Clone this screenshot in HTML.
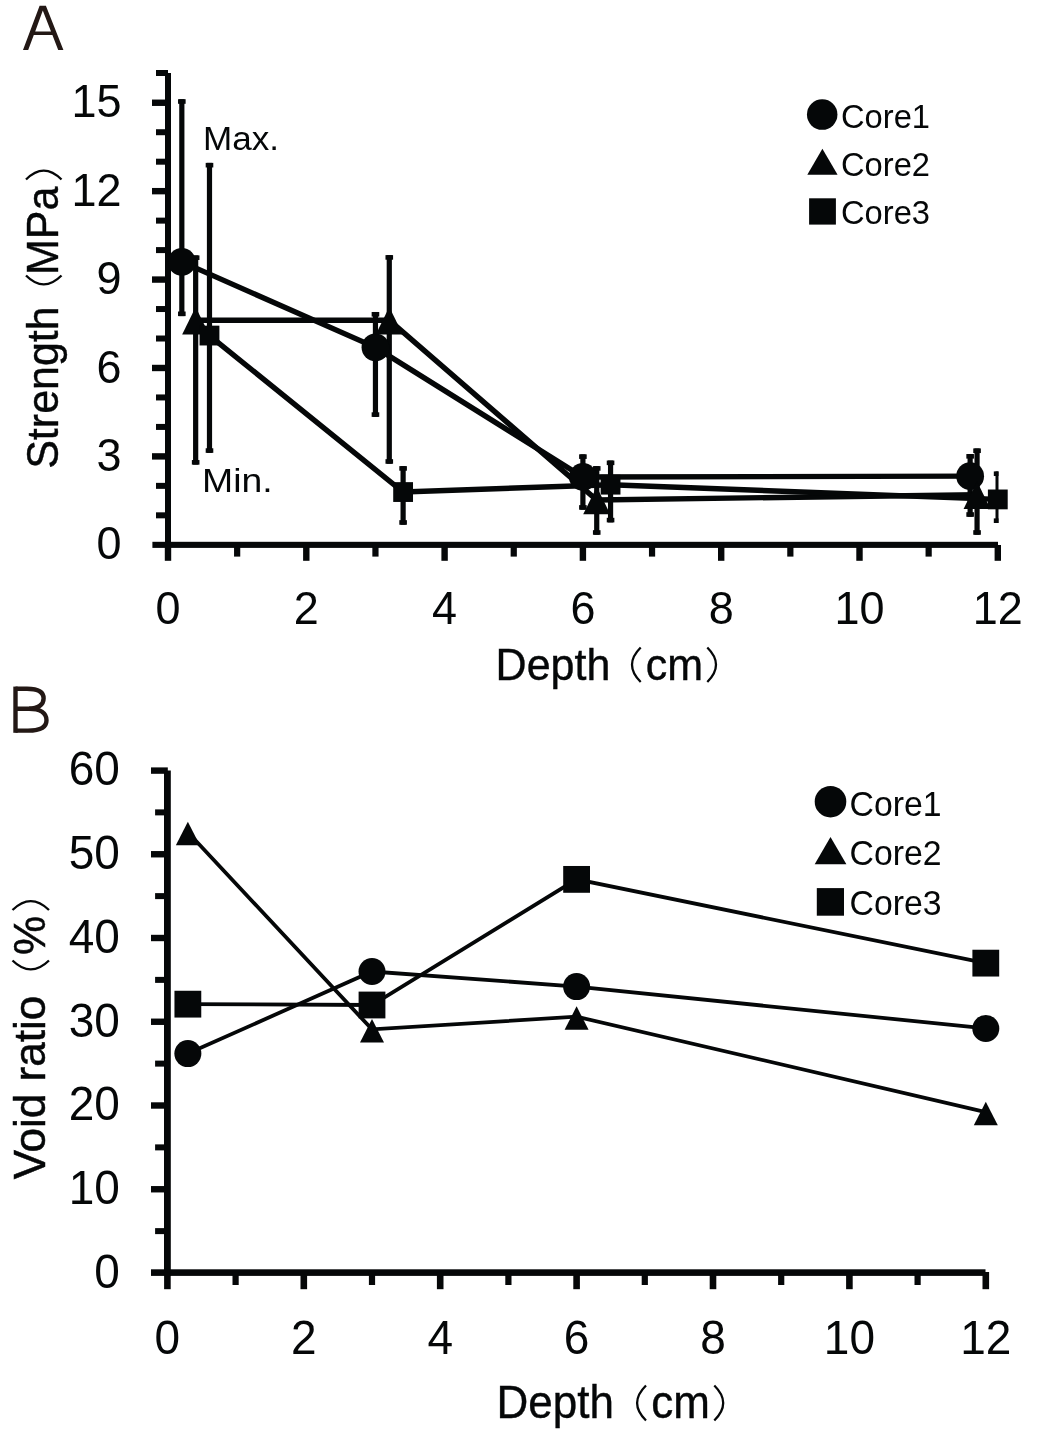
<!DOCTYPE html>
<html><head><meta charset="utf-8"><title>Figure</title>
<style>html,body{margin:0;padding:0;background:#fff}svg{display:block;will-change:transform}text{font-family:"Liberation Sans",sans-serif;fill:#050708}</style>
</head><body>
<svg width="1045" height="1433" viewBox="0 0 1045 1433" fill="#050708">
<rect x="0" y="0" width="1045" height="1433" fill="#ffffff"/>
<!-- panel letters -->
<path fill="#231815" fill-rule="evenodd" d="M23,50 L39.6,5.7 L45.9,5.7 L63.4,50 L58.2,50 L52.4,35.1 L33.8,35.1 L28.2,50 Z M35.2,31.5 L51,31.5 L42.8,10.6 Z"/>
<g fill="none" stroke="#231815" stroke-width="4.4" stroke-linejoin="miter">
<path d="M15.5,686.6 L15.5,732.8"/>
<path d="M15.5,688.8 L27,688.8 C38,688.8 43.6,692.2 43.6,698.4 C43.6,704.6 38,708.7 29,708.7 L15.5,708.7"/>
<path d="M29,708.7 C40.5,708.7 46.5,713 46.5,720.2 C46.5,727.4 40,730.6 28,730.6 L15.5,730.6"/>
</g>
<!-- chart A axes -->
<rect x="165" y="73" width="6" height="475"/>
<rect x="152.4" y="541.8" width="845.6" height="6.1"/>
<rect x="156" y="512.33" width="10" height="6"/>
<rect x="156" y="482.86" width="10" height="6"/>
<rect x="152" y="453.19" width="14" height="6.4"/>
<rect x="156" y="423.92" width="10" height="6"/>
<rect x="156" y="394.45" width="10" height="6"/>
<rect x="152" y="364.78" width="14" height="6.4"/>
<rect x="156" y="335.51" width="10" height="6"/>
<rect x="156" y="306.04" width="10" height="6"/>
<rect x="152" y="276.37" width="14" height="6.4"/>
<rect x="156" y="247.1" width="10" height="6"/>
<rect x="156" y="217.63" width="10" height="6"/>
<rect x="152" y="187.96" width="14" height="6.4"/>
<rect x="156" y="158.69" width="10" height="6"/>
<rect x="156" y="129.22" width="10" height="6"/>
<rect x="152" y="99.55" width="14" height="6.4"/>
<rect x="156" y="70" width="12" height="6"/>
<rect x="164.8" y="545" width="6.4" height="15.8"/>
<rect x="234.05" y="545" width="6.2" height="11.6"/>
<rect x="303.1" y="545" width="6.4" height="15.8"/>
<rect x="372.35" y="545" width="6.2" height="11.6"/>
<rect x="441.4" y="545" width="6.4" height="15.8"/>
<rect x="510.65" y="545" width="6.2" height="11.6"/>
<rect x="579.7" y="545" width="6.4" height="15.8"/>
<rect x="648.95" y="545" width="6.2" height="11.6"/>
<rect x="718" y="545" width="6.4" height="15.8"/>
<rect x="787.25" y="545" width="6.2" height="11.6"/>
<rect x="856.3" y="545" width="6.4" height="15.8"/>
<rect x="925.55" y="545" width="6.2" height="11.6"/>
<rect x="994.6" y="545" width="6.4" height="15.8"/>
<!-- chart A error bars -->
<rect x="179.23" y="99.21" width="5.2" height="216.9"/>
<rect x="178.03" y="99.21" width="7.6" height="4.6"/>
<rect x="178.03" y="311.51" width="7.6" height="4.6"/>
<rect x="372.85" y="311.99" width="5.2" height="104.91"/>
<rect x="371.65" y="311.99" width="7.6" height="4.6"/>
<rect x="371.65" y="412.3" width="7.6" height="4.6"/>
<rect x="580.3" y="454.33" width="5.2" height="55.4"/>
<rect x="579.1" y="454.33" width="7.6" height="4.6"/>
<rect x="579.1" y="505.13" width="7.6" height="4.6"/>
<rect x="967.54" y="454.03" width="5.2" height="62.77"/>
<rect x="966.34" y="454.03" width="7.6" height="4.6"/>
<rect x="966.34" y="512.2" width="7.6" height="4.6"/>
<rect x="193.06" y="255.4" width="5.2" height="209.24"/>
<rect x="191.86" y="255.4" width="7.6" height="4.6"/>
<rect x="191.86" y="460.04" width="7.6" height="4.6"/>
<rect x="386.68" y="255.11" width="5.2" height="208.65"/>
<rect x="385.48" y="255.11" width="7.6" height="4.6"/>
<rect x="385.48" y="459.16" width="7.6" height="4.6"/>
<rect x="594.13" y="466.12" width="5.2" height="68.67"/>
<rect x="592.93" y="466.12" width="7.6" height="4.6"/>
<rect x="592.93" y="530.18" width="7.6" height="4.6"/>
<rect x="974.46" y="448.43" width="5.2" height="86.35"/>
<rect x="973.26" y="448.43" width="7.6" height="4.6"/>
<rect x="973.26" y="530.18" width="7.6" height="4.6"/>
<rect x="206.89" y="162.87" width="5.2" height="289.98"/>
<rect x="205.69" y="162.87" width="7.6" height="4.6"/>
<rect x="205.69" y="448.25" width="7.6" height="4.6"/>
<rect x="400.51" y="466.12" width="5.2" height="58.65"/>
<rect x="399.31" y="466.12" width="7.6" height="4.6"/>
<rect x="399.31" y="520.16" width="7.6" height="4.6"/>
<rect x="607.96" y="460.52" width="5.2" height="61.89"/>
<rect x="606.76" y="460.52" width="7.6" height="4.6"/>
<rect x="606.76" y="517.8" width="7.6" height="4.6"/>
<rect x="995.5" y="471.42" width="3" height="51.57"/>
<rect x="993.8" y="471.42" width="4.7" height="4.6"/>
<rect x="993.8" y="518.39" width="4.7" height="4.6"/>
<!-- chart A lines -->
<polyline points="181.83,261.89 375.45,347.35 582.9,477.02 970.14,476.13" fill="none" stroke="#050708" stroke-width="5.4" stroke-linejoin="miter"/>
<polyline points="195.66,320.24 389.28,320.24 596.73,500.01 977.06,494.7" fill="none" stroke="#050708" stroke-width="5.4" stroke-linejoin="miter"/>
<polyline points="209.49,335.56 403.11,492.05 610.56,484.68 997.8,499.42" fill="none" stroke="#050708" stroke-width="5.4" stroke-linejoin="miter"/>
<!-- chart A markers -->
<circle cx="181.83" cy="261.89" r="13.9"/>
<circle cx="375.45" cy="347.35" r="13.9"/>
<circle cx="582.9" cy="477.02" r="13.9"/>
<circle cx="970.14" cy="476.13" r="13.9"/>
<polygon points="195.66,306.94 209.16,334.54 182.16,334.54"/>
<polygon points="389.28,306.94 402.78,334.54 375.78,334.54"/>
<polygon points="596.73,486.71 610.23,514.31 583.23,514.31"/>
<polygon points="977.06,481.4 990.56,509 963.56,509"/>
<rect x="199.59" y="325.66" width="19.8" height="19.8"/>
<rect x="393.21" y="482.15" width="19.8" height="19.8"/>
<rect x="600.66" y="474.78" width="19.8" height="19.8"/>
<rect x="987.9" y="489.52" width="19.8" height="19.8"/>
<!-- chart A tick labels -->
<g font-size="47" text-anchor="end">
<text transform="translate(121.5 559.4) scale(0.957 1)">0</text>
<text transform="translate(121.5 470.99) scale(0.957 1)">3</text>
<text transform="translate(121.5 382.58) scale(0.957 1)">6</text>
<text transform="translate(121.5 294.17) scale(0.957 1)">9</text>
<text transform="translate(121.5 205.76) scale(0.957 1)">12</text>
<text transform="translate(121.5 117.35) scale(0.957 1)">15</text>
</g>
<g font-size="47" text-anchor="middle">
<text transform="translate(168 623.8) scale(0.957 1)">0</text>
<text transform="translate(306.3 623.8) scale(0.957 1)">2</text>
<text transform="translate(444.6 623.8) scale(0.957 1)">4</text>
<text transform="translate(582.9 623.8) scale(0.957 1)">6</text>
<text transform="translate(721.2 623.8) scale(0.957 1)">8</text>
<text transform="translate(859.5 623.8) scale(0.957 1)">10</text>
<text transform="translate(997.8 623.8) scale(0.957 1)">12</text>
</g>
<text x="203" y="150" font-size="33" textLength="76" lengthAdjust="spacingAndGlyphs">Max.</text>
<text x="202" y="492.1" font-size="33" textLength="70.6" lengthAdjust="spacingAndGlyphs">Min.</text>
<!-- legend A -->
<circle cx="822.2" cy="114.6" r="15.25"/>
<polygon points="822.4,148.7 837.6,174.8 807.3,174.8"/>
<rect x="809.1" y="198.3" width="26.8" height="26.3"/>
<g font-size="34">
<text x="841" y="127.9" textLength="89" lengthAdjust="spacingAndGlyphs">Core1</text>
<text x="841" y="175.7" textLength="89" lengthAdjust="spacingAndGlyphs">Core2</text>
<text x="841" y="223.6" textLength="89" lengthAdjust="spacingAndGlyphs">Core3</text>
</g>
<!-- x title A -->
<g font-size="44.6" stroke="#050708" stroke-width="0.4">
<text transform="translate(495.6 679.8) scale(0.964 1)">Depth</text>
<path d="M640.7,647.5 Q623.3,664.75 640.7,682" fill="none" stroke="#050708" stroke-width="2.3"/>
<text transform="translate(645.7 679.8) scale(0.964 1)">cm</text>
</g>
<path d="M707.3,647.5 Q724.7,664.75 707.3,682" fill="none" stroke="#050708" stroke-width="2.3"/>
<!-- y title A -->
<g transform="translate(58.3,0) rotate(-90)">
<g font-size="44.6" stroke="#050708" stroke-width="0.4">
<text transform="translate(-468.8 0) scale(0.964 1)">Strength</text>
<text transform="translate(-275 0) scale(0.964 1)">MPa</text>
</g>
</g>
<path d="M26,275.5 Q43.75,293.3 61.5,275.5" fill="none" stroke="#050708" stroke-width="2.3"/>
<path d="M26,179.5 Q43.75,161.7 61.5,179.5" fill="none" stroke="#050708" stroke-width="2.3"/>
<!-- chart B axes -->
<rect x="164" y="770.5" width="6.8" height="505.5"/>
<rect x="151" y="1269.3" width="834.5" height="6.6"/>
<rect x="155.1" y="1228.12" width="10.9" height="6"/>
<rect x="151" y="1186.05" width="15" height="6.4"/>
<rect x="155.1" y="1144.38" width="10.9" height="6"/>
<rect x="151" y="1102.3" width="15" height="6.4"/>
<rect x="155.1" y="1060.62" width="10.9" height="6"/>
<rect x="151" y="1018.55" width="15" height="6.4"/>
<rect x="155.1" y="976.88" width="10.9" height="6"/>
<rect x="151" y="934.8" width="15" height="6.4"/>
<rect x="155.1" y="893.12" width="10.9" height="6"/>
<rect x="151" y="851.05" width="15" height="6.4"/>
<rect x="155.1" y="809.38" width="10.9" height="6"/>
<rect x="151" y="767.4" width="16.8" height="6.4"/>
<rect x="164.1" y="1272" width="6.6" height="17.2"/>
<rect x="232.5" y="1272" width="6.2" height="13"/>
<rect x="300.5" y="1272" width="6.6" height="17.2"/>
<rect x="368.9" y="1272" width="6.2" height="13"/>
<rect x="436.9" y="1272" width="6.6" height="17.2"/>
<rect x="505.3" y="1272" width="6.2" height="13"/>
<rect x="573.3" y="1272" width="6.6" height="17.2"/>
<rect x="641.7" y="1272" width="6.2" height="13"/>
<rect x="709.7" y="1272" width="6.6" height="17.2"/>
<rect x="778.1" y="1272" width="6.2" height="13"/>
<rect x="846.1" y="1272" width="6.6" height="17.2"/>
<rect x="914.5" y="1272" width="6.2" height="13"/>
<rect x="982.5" y="1272" width="6.6" height="17.2"/>
<!-- chart B lines -->
<polyline points="187.86,1053.58 372,971.5 576.6,986.58 985.8,1028.45" fill="none" stroke="#050708" stroke-width="3.8" stroke-linejoin="miter"/>
<polyline points="187.86,832.22 372,1029.37 576.6,1016.72 985.8,1112.03" fill="none" stroke="#050708" stroke-width="3.8" stroke-linejoin="miter"/>
<polyline points="187.86,1004.16 372,1005 576.6,879.38 985.8,963.12" fill="none" stroke="#050708" stroke-width="3.8" stroke-linejoin="miter"/>
<!-- chart B markers -->
<circle cx="187.86" cy="1053.58" r="13.5"/>
<circle cx="372" cy="971.5" r="13.5"/>
<circle cx="576.6" cy="986.58" r="13.5"/>
<circle cx="985.8" cy="1028.45" r="13.5"/>
<polygon points="187.86,821.82 199.86,845.32 175.86,845.32"/>
<polygon points="372,1018.97 384,1042.47 360,1042.47"/>
<polygon points="576.6,1006.32 588.6,1029.82 564.6,1029.82"/>
<polygon points="985.8,1101.63 997.8,1125.13 973.8,1125.13"/>
<rect x="174.46" y="990.76" width="26.8" height="26.8"/>
<rect x="358.6" y="991.6" width="26.8" height="26.8"/>
<rect x="563.2" y="865.98" width="26.8" height="26.8"/>
<rect x="972.4" y="949.73" width="26.8" height="26.8"/>
<!-- chart B tick labels -->
<g font-size="48" text-anchor="end">
<text transform="translate(119.9 1287.9) scale(0.958 1)">0</text>
<text transform="translate(119.9 1204.15) scale(0.958 1)">10</text>
<text transform="translate(119.9 1120.4) scale(0.958 1)">20</text>
<text transform="translate(119.9 1036.65) scale(0.958 1)">30</text>
<text transform="translate(119.9 952.9) scale(0.958 1)">40</text>
<text transform="translate(119.9 869.15) scale(0.958 1)">50</text>
<text transform="translate(119.9 785.4) scale(0.958 1)">60</text>
</g>
<g font-size="48" text-anchor="middle">
<text transform="translate(167.4 1354) scale(0.958 1)">0</text>
<text transform="translate(303.8 1354) scale(0.958 1)">2</text>
<text transform="translate(440.2 1354) scale(0.958 1)">4</text>
<text transform="translate(576.6 1354) scale(0.958 1)">6</text>
<text transform="translate(713 1354) scale(0.958 1)">8</text>
<text transform="translate(849.4 1354) scale(0.958 1)">10</text>
<text transform="translate(985.8 1354) scale(0.958 1)">12</text>
</g>
<!-- legend B -->
<circle cx="830.5" cy="801.7" r="15.8"/>
<polygon points="830.5,837 846.4,864.3 814.7,864.3"/>
<rect x="816.8" y="888.1" width="27.2" height="27.6"/>
<g font-size="35.2">
<text x="849.5" y="815.6" textLength="92" lengthAdjust="spacingAndGlyphs">Core1</text>
<text x="849.5" y="865.1" textLength="92" lengthAdjust="spacingAndGlyphs">Core2</text>
<text x="849.5" y="914.7" textLength="92" lengthAdjust="spacingAndGlyphs">Core3</text>
</g>
<!-- x title B -->
<g font-size="46" stroke="#050708" stroke-width="0.4">
<text transform="translate(496.5 1418.3) scale(0.9565 1)">Depth</text>
<path d="M646,1385.5 Q628.2,1403 646,1420.5" fill="none" stroke="#050708" stroke-width="2.3"/>
<text transform="translate(651.2 1418.3) scale(0.9565 1)">cm</text>
</g>
<path d="M714.3,1385.5 Q732.1,1403 714.3,1420.5" fill="none" stroke="#050708" stroke-width="2.3"/>
<!-- y title B -->
<g transform="translate(45.2,0) rotate(-90)">
<g font-size="45" stroke="#050708" stroke-width="0.5">
<text transform="translate(-1179.3 0) scale(0.978 1)">Void ratio</text>
<text transform="translate(-955 0) scale(0.978 1)">%</text>
</g>
</g>
<path d="M12.5,960.5 Q30.75,978.3 49,960.5" fill="none" stroke="#050708" stroke-width="2.3"/>
<path d="M12.5,910 Q30.75,892.2 49,910" fill="none" stroke="#050708" stroke-width="2.3"/>
</svg></body></html>
